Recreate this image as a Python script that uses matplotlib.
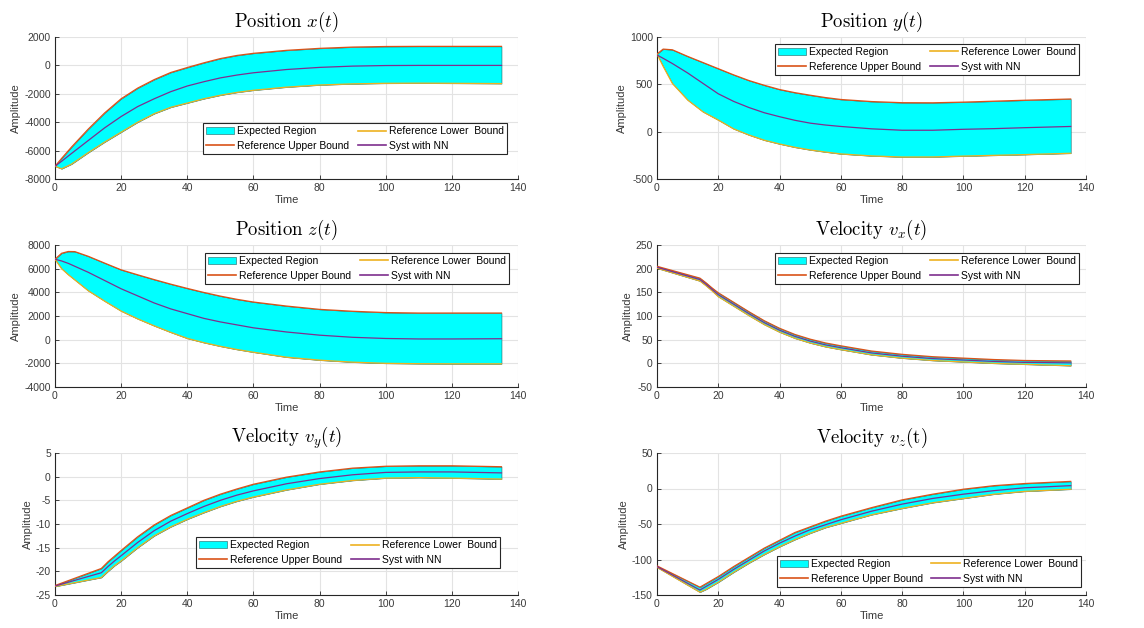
import matplotlib
matplotlib.use("Agg")
import matplotlib.pyplot as plt

plt.rcParams['mathtext.fontset'] = 'cm'
plt.rcParams['font.family'] = ['Liberation Sans', 'DejaVu Sans']
plt.rcParams['axes.unicode_minus'] = False

# ---------------- data ----------------
t_pos = [0, 2, 5, 10, 15, 20, 25, 30, 35, 40, 45, 50, 55, 60, 70, 80, 90, 100, 110, 120, 135]

x_upper = [-7100, -6550, -5750, -4500, -3350, -2350, -1600, -1000, -500, -150, 180, 480, 700, 850, 1060, 1200, 1290, 1330, 1340, 1340, 1340]
x_lower = [-7100, -7280, -6950, -6150, -5400, -4700, -4000, -3400, -2950, -2650, -2350, -2100, -1900, -1750, -1530, -1380, -1300, -1260, -1250, -1260, -1280]
x_mid = [-7100, -6750, -6200, -5300, -4400, -3600, -2900, -2350, -1850, -1450, -1150, -880, -680, -520, -290, -140, -50, -10, 0, 0, 0]

y_upper = [820, 872, 865, 795, 730, 665, 600, 540, 490, 445, 412, 385, 360, 340, 318, 306, 305, 312, 322, 332, 345]
y_lower = [820, 690, 510, 335, 210, 123, 30, -35, -90, -130, -165, -193, -215, -235, -256, -268, -267, -258, -250, -242, -228]
y_mid = [810, 775, 720, 620, 510, 400, 320, 255, 200, 158, 120, 90, 70, 55, 30, 15, 15, 25, 32, 42, 55]

t_z = [0, 2, 4, 6, 10, 15, 20, 25, 30, 35, 40, 45, 50, 55, 60, 70, 80, 90, 100, 110, 120, 135]
z_upper = [6800, 7300, 7450, 7440, 7050, 6470, 5900, 5480, 5075, 4690, 4330, 3990, 3680, 3410, 3180, 2840, 2560, 2400, 2290, 2250, 2250, 2250]
z_lower = [6800, 6000, 5500, 5050, 4150, 3260, 2420, 1760, 1170, 620, 110, -250, -560, -830, -1060, -1480, -1730, -1900, -2000, -2030, -2040, -2040]
z_mid = [6800, 6650, 6450, 6200, 5700, 5000, 4300, 3700, 3100, 2600, 2200, 1800, 1500, 1250, 1000, 650, 380, 200, 100, 60, 60, 80]

t_vel = [0, 14, 16, 18, 20, 25, 30, 35, 40, 45, 50, 55, 60, 70, 80, 90, 100, 110, 120, 135]
vx_upper = [205, 180, 170, 159, 149, 129, 109, 90, 74, 61, 51, 43, 37, 26, 19, 14, 11, 8, 6, 5]
vx_lower = [201, 174, 164, 153, 141, 121, 101, 82, 66, 53, 43, 35, 29, 18, 11, 6, 3, 0, -2, -5]
vx_mid = [203, 177, 167, 156, 145, 125, 105, 86, 70, 57, 47, 39, 33, 22, 15, 10, 7, 4, 2, 1]

vy_upper = [-23.0, -19.4, -18.0, -16.8, -15.6, -12.7, -10.2, -8.2, -6.6, -5.0, -3.7, -2.6, -1.6, -0.1, 1.0, 1.8, 2.2, 2.3, 2.3, 2.1]
vy_lower = [-23.2, -21.3, -20.0, -18.8, -17.8, -15.0, -12.5, -10.6, -9.0, -7.6, -6.3, -5.2, -4.3, -2.8, -1.6, -0.8, -0.3, -0.2, -0.3, -0.5]
vy_mid = [-23.1, -20.3, -19.0, -17.8, -16.7, -13.9, -11.4, -9.4, -7.8, -6.3, -5.0, -3.9, -3.0, -1.5, -0.4, 0.4, 0.9, 1.0, 1.0, 0.8]

vz_upper = [-109, -139, -134, -129, -124, -110, -97, -84, -73, -62, -54, -46, -39, -27, -16, -8, -1, 4, 7, 10]
vz_lower = [-111, -146, -142, -137, -132, -118, -105, -93, -82, -72, -63, -55, -49, -37, -28, -20, -14, -8, -4, -1]
vz_mid = [-110, -143, -138, -133, -128, -114, -101, -88, -77, -67, -58, -51, -44, -32, -22, -14, -8, -3, 1, 4]

titles = [r'$\mathrm{Position}\ x(t)$', r'$\mathrm{Position}\ y(t)$',
          r'$\mathrm{Position}\ z(t)$', r'$\mathrm{Velocity}\ v_x(t)$',
          r'$\mathrm{Velocity}\ v_y(t)$', r'$\mathrm{Velocity}\ v_z(\mathrm{t})$']
yticks_list = [list(range(-8000, 2001, 2000)), list(range(-500, 1001, 500)),
               list(range(-4000, 8001, 2000)), list(range(-50, 251, 50)),
               list(range(-25, 6, 5)), list(range(-150, 51, 50))]
xticks = list(range(0, 141, 20))
legend_labels = ['Expected Region', 'Reference Upper Bound', 'Reference Lower  Bound', 'Syst with NN']

series = [
    (t_pos, x_upper, x_lower, x_mid),
    (t_pos, y_upper, y_lower, y_mid),
    (t_z, z_upper, z_lower, z_mid),
    (t_vel, vx_upper, vx_lower, vx_mid),
    (t_vel, vy_upper, vy_lower, vy_mid),
    (t_vel, vz_upper, vz_lower, vz_mid),
]

# ---------------- layout ----------------
W, H = 1144, 628
fig = plt.figure(figsize=(W / 100, H / 100), dpi=100)
col_px = [(55, 463), (657, 429)]
row_px = [(37, 179), (245, 387), (453, 595)]
legend_anchor = [(0.976, 0.394), (0.984, 0.951), (0.981, 0.944),
                 (0.984, 0.944), (0.961, 0.408), (0.988, 0.275)]

c_upper = '#D95319'
c_lower = '#EDB120'
c_mid = '#7E2F8E'
c_fill = '#00FFFF'
axcol = '#262626'

for i, (tt, up, lo, mid) in enumerate(series):
    r, c = divmod(i, 2)
    left, width = col_px[c]
    top, bottom = row_px[r]
    ax = fig.add_axes([left / W, 1 - bottom / H, width / W, (bottom - top) / H])
    fill = ax.fill_between(tt, lo, up, facecolor=c_fill, edgecolor='#1f5f5f', linewidth=0.4, zorder=2)
    l_up, = ax.plot(tt, up, color=c_upper, lw=0.9, zorder=3)
    l_lo, = ax.plot(tt, lo, color=c_lower, lw=0.9, zorder=3)
    l_mid, = ax.plot(tt, mid, color=c_mid, lw=0.9, zorder=4)

    ax.set_xlim(0, 140)
    yt = yticks_list[i]
    ax.set_ylim(yt[0], yt[-1])
    ax.set_xticks(xticks)
    ax.set_yticks(yt)
    ax.grid(True, color='#e3e3e3', lw=0.8)
    ax.set_axisbelow(True)
    for s in ['top', 'right']:
        ax.spines[s].set_visible(False)
    for s in ['left', 'bottom']:
        ax.spines[s].set_color(axcol)
        ax.spines[s].set_linewidth(0.8)
    ax.tick_params(direction='in', length=3, width=0.6, colors=axcol,
                   labelsize=7.5, labelcolor='#3a3a3a', pad=3)
    ax.set_xlabel('Time', fontsize=8, color='#3a3a3a', labelpad=1)
    ax.set_ylabel('Amplitude', fontsize=8, color='#3a3a3a', labelpad=2)
    ax.set_title(titles[i], fontsize=13.5, pad=7)

    leg = ax.legend([fill, l_up, l_lo, l_mid], legend_labels, ncol=2,
                    loc='upper right', bbox_to_anchor=legend_anchor[i],
                    fontsize=7.5, frameon=True, fancybox=False, framealpha=1,
                    edgecolor='#262626', borderpad=0.3, labelspacing=0.45,
                    handlelength=2.7, handletextpad=0.3, columnspacing=0.8,
                    borderaxespad=0)
    leg.get_frame().set_linewidth(0.8)
    for ln in leg.get_lines():
        ln.set_linewidth(1.2)
    leg.set_zorder(10)

fig.savefig('out.png', dpi=100)
